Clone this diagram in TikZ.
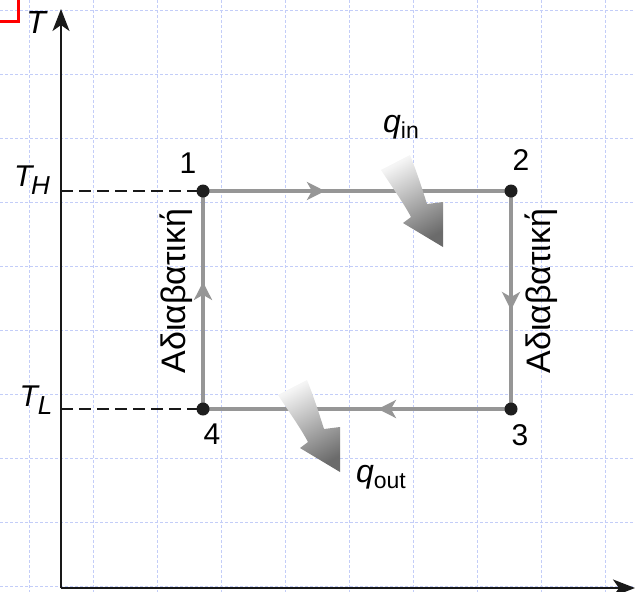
\documentclass[tikz,border=0pt]{standalone}
\usepackage{fontspec}
\setmainfont{Liberation Sans}
\usetikzlibrary{arrows.meta,decorations.markings}
\definecolor{gridblue}{RGB}{195,205,248}
\definecolor{cyclegray}{RGB}{150,150,150}
\definecolor{dotblack}{RGB}{30,30,30}
\newcommand{\heatarrow}[1]{%
  \shade[shift={#1}, top color=black!4, bottom color=black!58, shading angle=29]
  (-62,-77) .. controls (-51,-60) and (-40,-45) .. (-32,-30) -- (-40,-24) -- (0,0)
  -- (0,-45) -- (-16,-43) .. controls (-22,-62) and (-27,-77) .. (-33,-92) -- cycle;}
\begin{document}
\begin{tikzpicture}[x=1pt,y=-1pt,
  gridline/.style={draw=gridblue,line width=0.9pt,dash pattern=on 3pt off 2pt},
  axis/.style={line width=2.3pt,draw=black!90,-{Stealth[length=22pt,width=17pt,inset=6pt]}},
  guide/.style={line width=1.8pt,draw=black!90,dash pattern=on 12pt off 6pt},
  cyc/.style={line width=4pt,draw=cyclegray},
  midarrow/.style={postaction={decorate},decoration={markings,
      mark=at position #1 with {\arrow[cyclegray]{Stealth[length=18pt,width=18pt,inset=5pt]}}}},
  dot/.style={circle,fill=dotblack,minimum size=13pt,inner sep=0pt},
  lbl/.style={inner sep=0pt,font=\fontsize{30}{34}\selectfont},
  greek/.style={inner sep=0pt,rotate=90,anchor=base,font=\fontsize{34}{40}\selectfont},
]
\useasboundingbox (0,0) rectangle (635,592);
% grid
\foreach \k in {0,...,9} {
  \draw[gridline] (29+64*\k,0) -- (29+64*\k,592);
  \draw[gridline] (0,10+64*\k) -- (635,10+64*\k);
}
% red corner mark
\draw[red,line width=3pt] (0,21) -- (18,21) -- (18,0);
% axes
\coordinate (O) at (61,588);
\coordinate (ytop) at (61,9);
\coordinate (xend) at (635,588);
\draw[axis] (O) -- (ytop);
\draw[axis] (O) -- (xend);
% state points
\coordinate (c1) at (203,191);
\coordinate (c2) at (511,191);
\coordinate (c3) at (511,409);
\coordinate (c4) at (203,409);
% guides
\draw[guide] (O |- c1) -- (c1);
\draw[guide] (O |- c4) -- (c4);
% cycle
\draw[cyc,midarrow=0.396] (c1) -- (c2);
\draw[cyc,midarrow=0.546] (c2) -- (c3);
\draw[cyc,midarrow=0.432] (c3) -- (c4);
\draw[cyc,midarrow=0.583] (c4) -- (c1);
\node[dot] (p1) at (c1) {};
\node[dot] (p2) at (c2) {};
\node[dot] (p3) at (c3) {};
\node[dot] (p4) at (c4) {};
% heat arrows
\heatarrow{(443,247)}
\heatarrow{(340,472)}
% labels
\node[lbl] (n1) at (188,163) {1};
\node[lbl] (n2) at (521,160) {2};
\node[lbl] (n3) at (520,435) {3};
\node[lbl] (n4) at (212,434) {4};
\node[lbl,font=\fontsize{32}{36}\selectfont] (T) at (37,22) {\textit{T}};
\node[lbl] (TH) at (32,180) {\fontsize{30}{34}\selectfont\textit{T}\kern-3pt\raisebox{-8pt}{\fontsize{26}{30}\selectfont\textit{H}}};
\node[lbl] (TL) at (36,400) {\fontsize{30}{34}\selectfont\textit{T}\kern-2pt\raisebox{-8pt}{\fontsize{26}{30}\selectfont\textit{L}}};
\node[lbl] (qin) at (401,127) {\fontsize{32}{34}\selectfont\textit{q}\raisebox{-6pt}{\fontsize{23}{26}\selectfont in}};
\node[lbl] (qout) at (381,477) {\fontsize{32}{34}\selectfont\textit{q}\raisebox{-6pt}{\fontsize{23}{26}\selectfont out}};
\node[greek] (adL) at (185,291) {Αδιαβατική};
\node[greek] (adR) at (550,291) {Αδιαβατική};
\end{tikzpicture}
\end{document}
